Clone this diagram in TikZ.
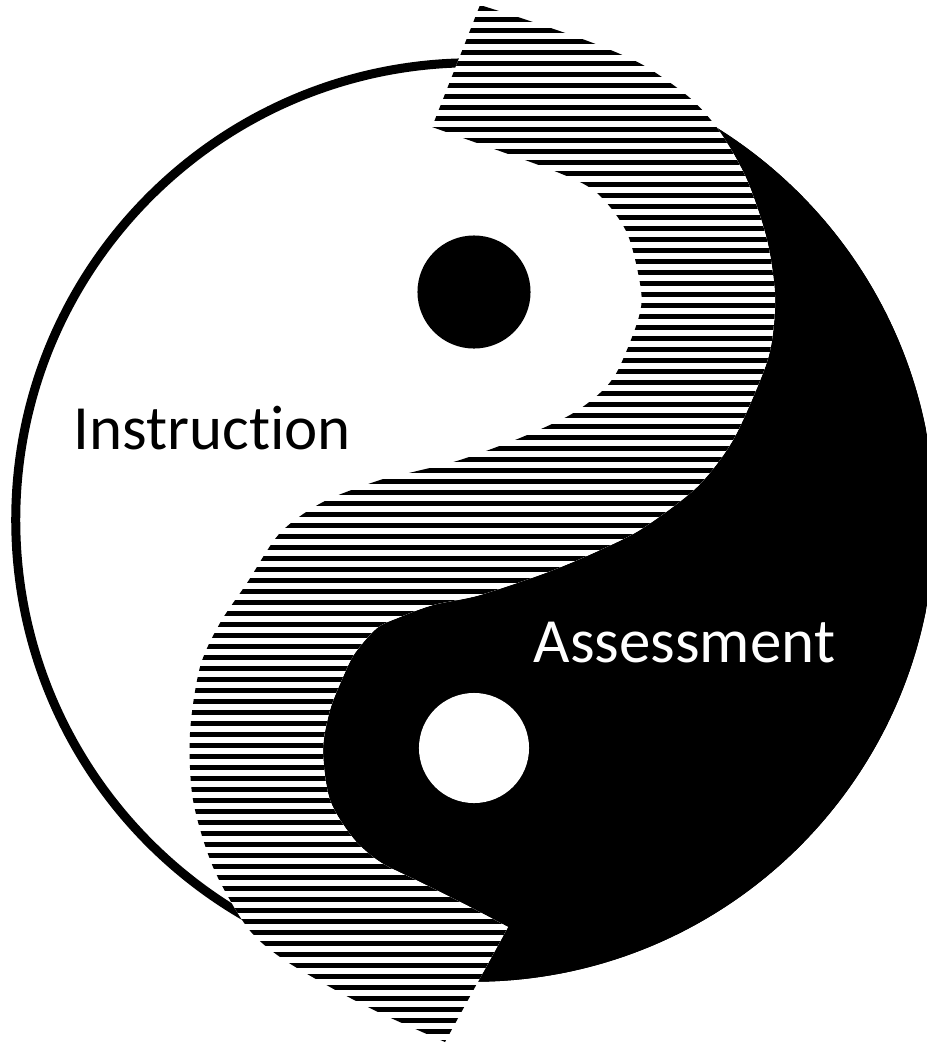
\documentclass[tikz,border=0pt]{standalone}
\usepackage{fontspec}
\setmainfont{Carlito}[Ligatures=NoCommon]
\usetikzlibrary{positioning}

% edge between the striped band and the black half
\newcommand{\yangedge}{plot[smooth] coordinates {(480,5) (533,22) (593,43) (643,65) (690,98) (720,132) (747,180) (767,240) (775,295) (772,340) (763,373) (733,440) (697,487) (643,528) (600,550) (548,572) (480,595) (433,605) (400,617) (377,628) (355,653) (343,677) (330,710) (323,750) (330,800) (353,838) (380,862) (420,882) (470,907) (508,927)}}
% edge between the white half and the striped band (bottom to top)
\newcommand{\yinedge}{-- plot[smooth] coordinates {(445,1042) (380,1013) (330,987) (280,957) (247,927) (213,867) (193,800) (190,733) (200,667) (220,623) (247,583) (280,533) (323,502) (380,480) (413,472) (460,460) (520,438) (570,415) (600,393) (618,370) (638,320) (641,290) (627,233) (597,193) (557,172) (463,138) (432,127)}}

\begin{document}
\begin{tikzpicture}[x=0.01cm, y=-0.01cm,
    rim/.style={draw=black, line width=0.09cm, fill=white},
    stripe/.style={line width=0.05cm, black},
    dot/.style={circle, fill=#1, inner sep=0pt, minimum size=1.13cm},
    word/.style={font=\fontsize{17.9}{21}\selectfont, inner sep=0pt, anchor=base west, text=#1}
  ]
    \useasboundingbox (0,0) rectangle (927,1045);

    % Outer ring
    \draw[rim] (473,520) circle[radius=4.57cm];

    % Black half
    \begin{scope}
      \clip (473,520) circle[radius=4.615cm];
      \fill[black] \yangedge -- (445,1042) -- (445,1100) -- (1000,1100) -- (1000,-50) -- (480,-50) -- cycle;
    \end{scope}

    % Striped band
    \begin{scope}
      \clip \yangedge \yinedge -- cycle;
      \fill[white] (0,0) rectangle (927,1045);
      \foreach \k in {0,...,95}
        \draw[stripe] (100,{8+11*\k}) -- (850,{8+11*\k});
    \end{scope}

    % Dots
    \node[dot=black] (yangdot) at (474,292) {};
    \node[dot=white, minimum size=1.1cm] (yindot) at (474,748) {};

    % Labels
    \node[word=black] (instr) at (73,449) {Instruction};
    \node[word=white] (assess) at (533,662) {Assessment};
\end{tikzpicture}
\end{document}
